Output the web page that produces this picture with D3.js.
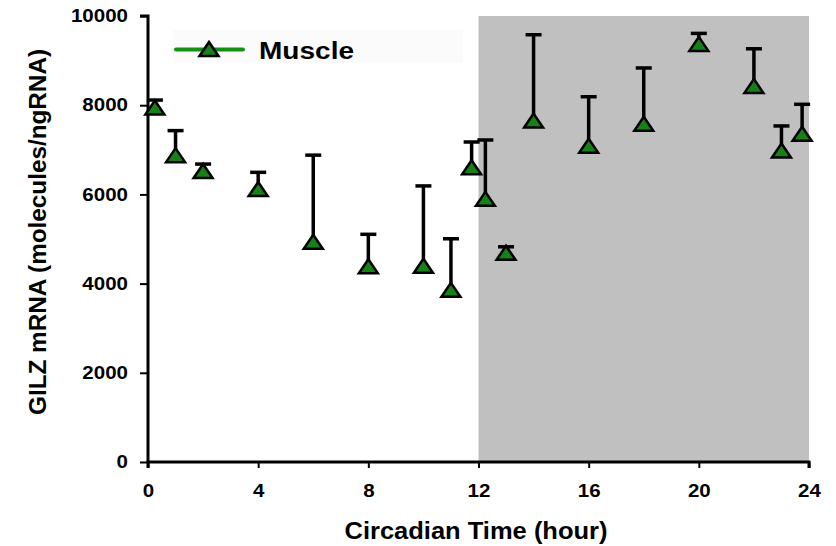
<!DOCTYPE html>
<html><head><meta charset="utf-8">
<script src="https://cdn.jsdelivr.net/npm/d3@7"></script>
<style>body{margin:0;background:#fff}svg{display:block}text{font-family:"Liberation Sans",Arial,sans-serif;font-weight:bold}</style>
</head><body><svg id="c" width="836" height="546"></svg>
<script>
const hours = [0.25,1,2,4,6,8,10,11,11.75,12.25,13,14,16,18,20,22,23,23.75];
const means = [7950,6880,6525,6120,4940,4390,4400,3860,6610,5900,4690,7655,7090,7585,9375,8430,6985,7360];
const upper = [8115,7430,6680,6495,6880,5105,6190,5005,7175,7220,4825,9580,8190,8835,9610,9265,7535,8020];
const xTicks = [0,4,8,12,16,20,24];
const yTicks = [0,2000,4000,6000,8000,10000];
const darkPeriod = [12,24];
const seriesName = "Muscle";

const svg = d3.select("#c");
const x = d3.scaleLinear().domain([0,24]).range([148,809]);
const y = d3.scaleLinear().domain([0,10000]).range([462,16]);

function stretch(sel, k){
  sel.each(function(){
    const w = this.getComputedTextLength();
    d3.select(this).attr("textLength", w*k).attr("lengthAdjust","spacingAndGlyphs");
  });
}

svg.append("rect").attr("x",x(darkPeriod[0])).attr("y",y(10000))
  .attr("width",x(darkPeriod[1])-x(darkPeriod[0])).attr("height",y(0)-y(10000)).attr("fill","#c0c0c0");

svg.append("rect").attr("x",173).attr("y",30).attr("width",290).attr("height",33).attr("fill","#fbfbfb");

const ya = svg.append("g").attr("transform",`translate(${x(0)},0)`)
  .call(d3.axisLeft(y).tickValues(yTicks).tickSize(8).tickPadding(12).tickFormat(d3.format("d")));
const xa = svg.append("g").attr("transform",`translate(0,${y(0)})`)
  .call(d3.axisBottom(x).tickValues(xTicks).tickSize(6).tickPadding(16));
[ya,xa].forEach(g=>{
  g.select(".domain").attr("stroke","#000").attr("stroke-width",3);
  g.selectAll(".tick line").attr("stroke","#000").attr("stroke-width",2);
  g.selectAll(".tick text").attr("fill","#000").style("font-size","18px").style("font-weight","bold")
   .style("font-family","'Liberation Sans',Arial,sans-serif");
  stretch(g.selectAll(".tick text"), 1.14);
});
ya.select(".domain").attr("d",`M-8,${y(10000)}H0V${y(0)}`);
xa.select(".domain").attr("d",`M${x(0)},6V0H${x(24)}V6`);

const data = hours.map((h,i)=>({h,m:means[i],u:upper[i]}));
const eb = svg.append("g");
eb.selectAll("line.v").data(data).join("line")
  .attr("x1",d=>x(d.h)).attr("x2",d=>x(d.h)).attr("y1",d=>y(d.m)).attr("y2",d=>y(d.u))
  .attr("stroke","#000").attr("stroke-width",3.5);
eb.selectAll("line.c").data(data).join("line")
  .attr("x1",d=>x(d.h)-8).attr("x2",d=>x(d.h)+8).attr("y1",d=>y(d.u)).attr("y2",d=>y(d.u))
  .attr("stroke","#000").attr("stroke-width",3.5);

const tri = "M0,-7L9.5,7L-9.5,7Z";
svg.append("g").selectAll("path").data(data).join("path")
  .attr("d",tri).attr("transform",d=>`translate(${x(d.h)},${y(d.m)})`)
  .attr("fill","#178017").attr("stroke","#000").attr("stroke-width",2.5);

svg.append("line").attr("x1",176).attr("x2",243).attr("y1",49.5).attr("y2",49.5)
  .attr("stroke","#149014").attr("stroke-width",4).attr("stroke-linecap","round");
svg.append("path").attr("d",tri).attr("transform","translate(209,49)")
  .attr("fill","#178017").attr("stroke","#000").attr("stroke-width",2.5);
svg.append("text").attr("x",259).attr("y",59).attr("fill","#000").style("font-size","23.5px")
  .attr("textLength",95).attr("lengthAdjust","spacingAndGlyphs").text(seriesName);

svg.append("text").attr("x",476).attr("y",539).attr("text-anchor","middle").attr("fill","#000")
  .style("font-size","23.5px").attr("textLength",263).attr("lengthAdjust","spacingAndGlyphs").text("Circadian Time (hour)");
svg.append("text").attr("transform","translate(46,232) rotate(-90)").attr("text-anchor","middle").attr("fill","#000")
  .style("font-size","24px").attr("textLength",366).attr("lengthAdjust","spacingAndGlyphs").text("GILZ mRNA (molecules/ngRNA)");
</script></body></html>
